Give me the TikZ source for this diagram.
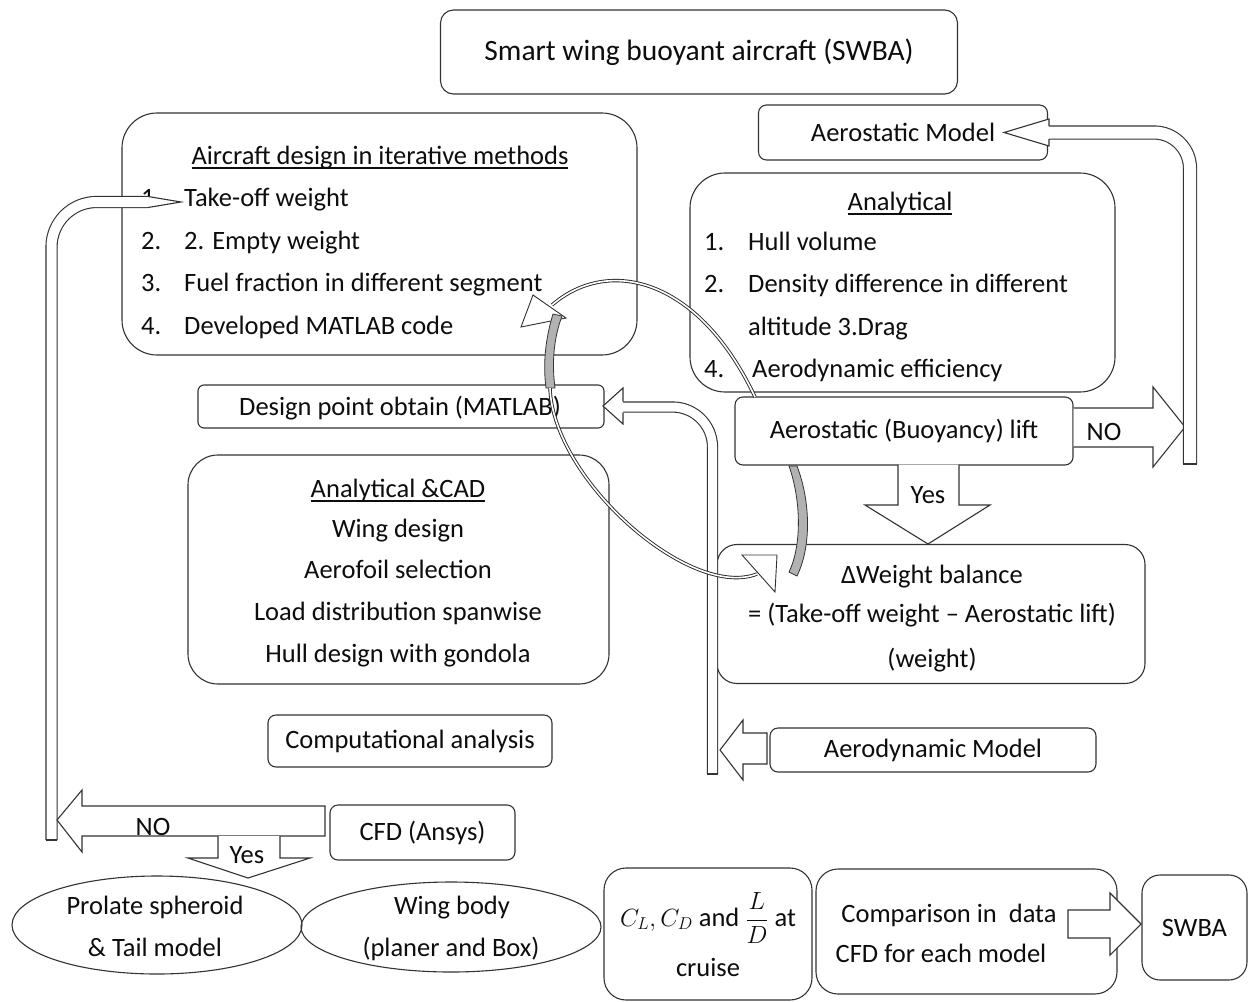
\documentclass[tikz,border=0pt]{standalone}
\usepackage{fontspec}
\setmainfont{Carlito}
\usetikzlibrary{shapes.geometric}
\newcommand\bodyfs{\fontsize{26.5}{32}\selectfont}
\newcommand\titlefs{\fontsize{29.5}{36}\selectfont}
\newcommand\ulx[1]{\setbox0\hbox{#1}\rlap{\rule[-5pt]{\wd0}{2pt}}\box0}
\begin{document}
\begin{tikzpicture}[x=1pt,y=-1pt,
  box/.style={draw=black!80, line width=1.1pt, fill=white, inner sep=0pt, text=black!95, font=\bodyfs},
  txt/.style={inner sep=0pt, text=black!95, font=\bodyfs},
  blk/.style={draw=black!80, line width=1.1pt, fill=white, line join=miter},
  dbl/.style={draw=black!80, line width=1.1pt, double=white, double distance=#1},
  dbl/.default=11pt,
  thinarrow/.style={draw=black!85, line width=0.9pt, double=white, double distance=1.6pt},
  band/.style={draw=black!80, line width=0.8pt, fill=black!30},
]
\fill[white] (0,0) rectangle (1252,1001);
\useasboundingbox (0,0) rectangle (1252,1001);

% ---------- boxes ----------
\node[box, rounded corners=13pt, minimum width=517pt, minimum height=84pt, font=\titlefs] (title) at (699,52) {Smart wing buoyant aircraft (SWBA)};

\node[box, rounded corners=35pt, minimum width=515pt, minimum height=242pt] (iter) at (379.5,234) {};
\node[txt, anchor=base] (iterT) at (380,164) {\ulx{Aircraft design in iterative methods}};
\node[txt, anchor=base west] (i1n) at (141,206) {1.};
\node[txt, anchor=base west] (i1) at (184,206) {Take-off weight};
\node[txt, anchor=base west] (i2n) at (141,249) {2.};
\node[txt, anchor=base west] (i2) at (184,249) {2. Empty weight};
\node[txt, anchor=base west] (i3n) at (141,291) {3.};
\node[txt, anchor=base west] (i3) at (184,291) {Fuel fraction in different segment};
\node[txt, anchor=base west] (i4n) at (141,334) {4.};
\node[txt, anchor=base west] (i4) at (184,334) {Developed MATLAB code};

\node[box, rounded corners=8pt, minimum width=289pt, minimum height=55pt] (aeroM) at (903,132.5) {Aerostatic Model};

\node[box, rounded corners=35pt, minimum width=425pt, minimum height=219pt] (anal) at (902.5,282.5) {};
\node[txt, anchor=base] (analT) at (900,210) {\ulx{Analytical}};
\node[txt, anchor=base west] (a1n) at (704,250) {1.};
\node[txt, anchor=base west] (a1) at (748,250) {Hull volume};
\node[txt, anchor=base west] (a2n) at (704,292) {2.};
\node[txt, anchor=base west] (a2) at (748,292) {Density difference in different};
\node[txt, anchor=base west] (a3) at (748,335) {altitude 3.Drag};
\node[txt, anchor=base west] (a4n) at (704,377) {4.};
\node[txt, anchor=base west] (a4) at (752,377) {Aerodynamic efficiency};

\node[box, rounded corners=6pt, minimum width=406pt, minimum height=43pt] (design) at (401,406.5) {};
\node[txt, anchor=base west] (designT) at (239,415) {Design point obtain (MATLAB)};

\node[box, rounded corners=8pt, minimum width=338pt, minimum height=68pt] (lift) at (904,431) {Aerostatic (Buoyancy) lift};

\node[box, rounded corners=30pt, minimum width=421pt, minimum height=229pt] (acad) at (398.5,569.5) {};
\node[txt, anchor=base] (acadT) at (398,497) {\ulx{Analytical \&CAD}};
\node[txt, anchor=base] (c1) at (398,537) {Wing design};
\node[txt, anchor=base] (c2) at (398,578) {Aerofoil selection};
\node[txt, anchor=base] (c3) at (398,620) {Load distribution spanwise};
\node[txt, anchor=base] (c4) at (398,662) {Hull design with gondola};

\node[box, rounded corners=20pt, minimum width=428pt, minimum height=139pt] (wbal) at (931,614) {};
\node[txt, anchor=base] (w1) at (932,583) {ΔWeight balance};
\node[txt, anchor=base] (w2) at (932,622) {= (Take-off weight – Aerostatic lift)};
\node[txt, anchor=base] (w3) at (932,667) {(weight)};

\node[box, rounded corners=8pt, minimum width=284pt, minimum height=52pt] (comp) at (410,741) {Computational analysis};
\node[box, rounded corners=8pt, minimum width=326pt, minimum height=44pt] (aerodyn) at (933,750) {Aerodynamic Model};
\node[box, rounded corners=8pt, minimum width=185pt, minimum height=55pt] (cfd) at (422.5,832.5) {CFD (Ansys)};

\node[draw=black!80, line width=1.1pt, ellipse, inner sep=0pt, minimum width=290pt, minimum height=98pt] (ell1) at (157,925) {};
\node[txt, anchor=base] (e1a) at (155,914) {Prolate spheroid};
\node[txt, anchor=base] (e1b) at (155,956) {\& Tail model};
\node[draw=black!80, line width=1.1pt, ellipse, inner sep=0pt, minimum width=300pt, minimum height=90pt] (ell2) at (451,927) {};
\node[txt, anchor=base] (e2a) at (452,914) {Wing body};
\node[txt, anchor=base] (e2b) at (451,956) {(planer and Box)};

\node[box, rounded corners=22pt, minimum width=208pt, minimum height=132pt] (clcd) at (708,934) {};
\node[txt, anchor=base] (cl1) at (708,926) {$C_L, C_D$ and $\displaystyle\frac{L}{D}$ at};
\node[txt, anchor=base] (cl2) at (708,976) {cruise};

\node[box, rounded corners=22pt, minimum width=301pt, minimum height=125pt] (compar) at (966.5,931.5) {};
\node[txt, anchor=base] (cp1) at (949,922) {Comparison in \ data};
\node[txt, anchor=base] (cp2) at (941,962) {CFD for each model};

\node[box, rounded corners=18pt, minimum width=105pt, minimum height=105pt] (swba) at (1194.5,927.5) {SWBA};

% ---------- block arrows ----------
% NO (lift -> right)
\draw[blk] (lift.east |- 0,408) -- (1153,408) -- (1153,387) -- (1185,427) -- (1153,467) -- (1153,447) -- (lift.east |- 0,447);
\node[txt, anchor=base] (noR) at (1104,440) {NO};
% return to Aerostatic Model
\coordinate (retA) at (1190,464);
\draw[dbl=12pt, rounded corners=36pt] (retA) -- (1190,132.5) -- (1049,132.5);
\draw[draw=black!80, line width=1.1pt] (1183,464) -- (1197,464);
\draw[blk] (1049,126) -- (1049,119) -- (1004,132.5) -- (1049,146) -- (1049,139);

% Yes (lift -> weight balance)
\draw[blk] (898,464.5) -- (898,505) -- (865,505) -- (928,544) -- (990,505) -- (959,505) -- (959,464.5);
\node[txt, anchor=base] (yesR) at (928,503) {Yes};

% return to Design point
\coordinate (retD) at (712.5,774);
\draw[dbl=9pt, rounded corners=40pt] (retD) -- (712.5,407) -- (623,407);
\draw[draw=black!80, line width=1.1pt] (707,774) -- (718,774);
\draw[blk] (623,401.5) -- (623,388) -- (603,406) -- (623,424) -- (623,412.5);

% Aerodynamic Model -> left
\draw[blk] (767,733) -- (743,733) -- (743,720) -- (720,750) -- (743,780) -- (743,764) -- (767,764) -- cycle;

% left return to take-off weight
\coordinate (retL) at (51.5,840);
\draw[dbl=10pt, rounded corners=45pt] (retL) -- (51.5,202) -- (148,202);
\draw[draw=black!80, line width=1.1pt] (46,840) -- (57,840);
\draw[blk] (148,196.5) -- (181,202) -- (148,207.5);

% NO (cfd -> left)
\draw[blk] (325,806) -- (82,806) -- (82,790) -- (57,820) -- (82,852) -- (82,836) -- (325,836) -- cycle;
\node[txt, anchor=base] (noL) at (153,835) {NO};
% Yes (down to prolate spheroid)
\draw[blk] (218,836) -- (218,858) -- (188,858) -- (248,878) -- (310,858) -- (280,858) -- (280,836);
\node[txt, anchor=base] (yesL) at (247,863) {Yes};

% comparison -> SWBA
\draw[blk] (1068,910) -- (1110,910) -- (1110,893) -- (1141,924) -- (1110,955) -- (1110,938) -- (1068,938) -- cycle;

% ---------- circular arrows ----------
\draw[thinarrow] (755,397) .. controls (700,280) and (610,255) .. (552,305);
\draw[blk, line width=0.9pt] (533,295) -- (521,327) -- (566,318) -- cycle;
\draw[band] (553,314) .. controls (545,340) and (543,365) .. (546,388) -- (555,388) .. controls (552,365) and (553,340) .. (562,316) -- cycle;
\draw[thinarrow] (550,388) .. controls (553,480) and (690,600) .. (757,574);
\draw[blk, line width=0.9pt] (742,555) -- (777,555) -- (775,592) -- cycle;
\draw[band] (789,466) .. controls (801,500) and (802,545) .. (789,572) -- (797,576) .. controls (812,545) and (810,500) .. (797,466) -- cycle;
\end{tikzpicture}
\end{document}
